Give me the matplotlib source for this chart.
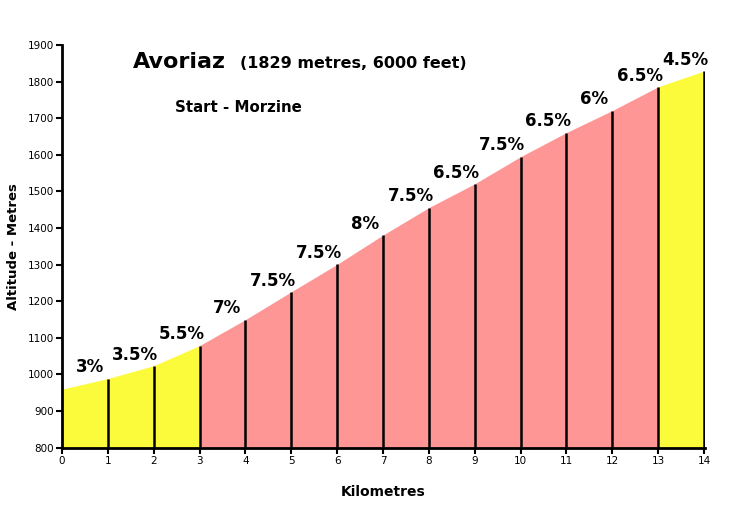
import matplotlib
matplotlib.use("Agg")
import matplotlib.pyplot as plt
import numpy as np

km = [0, 1, 2, 3, 4, 5, 6, 7, 8, 9, 10, 11, 12, 13, 14]
altitude = [960, 989, 1024, 1079, 1150, 1226, 1301, 1381, 1456, 1521, 1595, 1661, 1721, 1786, 1829]
gradients = ["3%", "3.5%", "5.5%", "7%", "7.5%", "7.5%", "8%", "7.5%", "6.5%", "7.5%", "6.5%", "6%", "6.5%", "4.5%"]
grad_values = [3, 3.5, 5.5, 7, 7.5, 7.5, 8, 7.5, 6.5, 7.5, 6.5, 6, 6.5, 4.5]
yticks = [800, 900, 1000, 1100, 1200, 1300, 1400, 1500, 1600, 1700, 1800, 1900]

YELLOW = "#fbfb3c"
PINK = "#ff9696"

fig = plt.figure(figsize=(7.5, 5.08), dpi=100)
ax = fig.add_axes([0.0827, 0.1187, 0.8573, 0.7927])

for i in range(len(km) - 1):
    color = YELLOW if grad_values[i] < 6 else PINK
    xs = [km[i], km[i + 1]]
    ys = [altitude[i], altitude[i + 1]]
    ax.fill_between(xs, 800, ys, color=color, linewidth=0)
    ax.vlines(km[i + 1], 800, altitude[i + 1], color="black", linewidth=1.8)
    ax.text(km[i] + 0.6, altitude[i + 1] + 6, gradients[i], ha="center", va="bottom",
            fontsize=12, fontweight="bold", color="black")

ax.set_xlim(0, 14.02)
ax.set_ylim(800, 1900)
ax.set_xticks(km)
ax.set_xticklabels([str(k) for k in km], fontsize=7.5)
ax.set_yticks(yticks)
ax.set_yticklabels([str(t) for t in yticks], fontsize=7.5)
ax.spines["top"].set_visible(False)
ax.spines["right"].set_visible(False)
ax.spines["left"].set_linewidth(2)
ax.spines["bottom"].set_linewidth(2)
ax.tick_params(direction="out", length=4, width=1.5, pad=2)

ax.set_xlabel("Kilometres", fontsize=10, fontweight="bold", labelpad=14)
ax.set_ylabel("Altitude - Metres", fontsize=9.5, fontweight="bold", labelpad=5)

fig.text(133 / 750, 1 - 68 / 508, "Avoriaz", fontsize=16, fontweight="bold", ha="left", va="baseline")
fig.text(240 / 750, 1 - 68 / 508, "(1829 metres, 6000 feet)", fontsize=11.5, fontweight="bold", ha="left", va="baseline")
fig.text(175 / 750, 1 - 112 / 508, "Start - Morzine", fontsize=10.8, fontweight="bold", ha="left", va="baseline")

fig.savefig("out.png", dpi=100)
